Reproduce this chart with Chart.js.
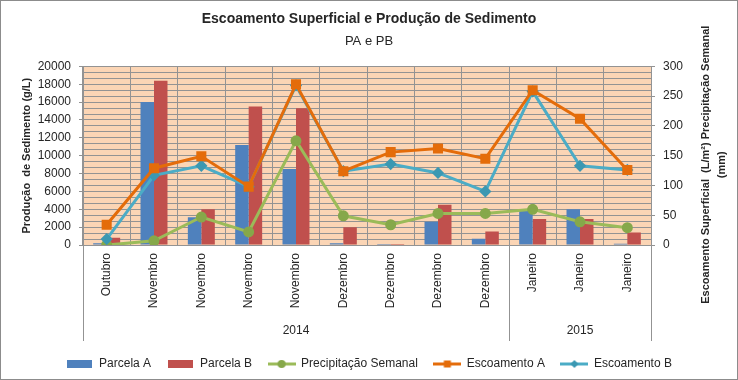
<!DOCTYPE html>
<html>
<head>
<meta charset="utf-8">
<script src="https://cdn.jsdelivr.net/npm/chart.js@4"></script>
<style>
  html, body { margin: 0; padding: 0; background: #fff; }
  canvas { display: block; }
</style>
</head>
<body>
<canvas id="chart" width="738" height="380"></canvas>
<script>
// Data
const categories = ['Outubro', 'Novembro', 'Novembro', 'Novembro', 'Novembro', 'Dezembro', 'Dezembro', 'Dezembro', 'Dezembro', 'Janeiro', 'Janeiro', 'Janeiro'];
const years = ['2014', '2015'];
const yearCounts = [9, 3];

const parcelaA = [200, 16000, 3100, 11200, 8500, 200, 100, 2600, 700, 3800, 4000, 150];
const parcelaB = [800, 18400, 4000, 15500, 15300, 2000, 100, 4500, 1500, 2900, 2900, 1400];
const precipitacao = [0, 7, 47, 22, 175, 49, 34, 53, 53, 60, 39, 29];
const escoamentoA = [34, 129, 149, 98, 270, 124, 156, 162, 145, 260, 212, 126];
const escoamentoB = [10, 117, 133, 98, 268, 124, 136, 121, 90, 258, 133, 126];

const leftTicks = { min: 0, max: 20000, step: 2000 };
const rightTicks = { min: 0, max: 300, step: 10, labelEvery: 50 };

// colours
const blue = '#4F81BD';
const red = '#C0504D';
const green = '#9BBB59';
const greenDark = '#86A84A';
const orange = '#E46C0A';
const teal = '#4BACC6';
const tealDark = '#3B98B2';
const plotBg = '#FBD5B5';
const gridColor = '#939393';
const textColor = '#262626';

Chart.defaults.font.family = '"Liberation Sans", Arial, sans-serif';
Chart.defaults.font.size = 12;
Chart.defaults.color = textColor;

// small pictures for the legend, Excel style
function legendBox(color) {
    const c = document.createElement('canvas');
    c.width = 25; c.height = 8;
    const g = c.getContext('2d');
    g.fillStyle = color;
    g.fillRect(0, 0, 25, 8);
    return c;
}
function legendLine(color, markColor, mark) {
    const c = document.createElement('canvas');
    c.width = 28; c.height = 10;
    const g = c.getContext('2d');
    g.strokeStyle = color;
    g.lineWidth = 3;
    g.beginPath(); g.moveTo(0, 5); g.lineTo(28, 5); g.stroke();
    g.fillStyle = markColor;
    if (mark === 'circle') {
        g.beginPath(); g.arc(14, 5, 4, 0, Math.PI * 2); g.fill();
    } else if (mark === 'rect') {
        g.fillRect(10.5, 1.5, 7, 7);
    } else {
        g.beginPath(); g.moveTo(14, 1); g.lineTo(18, 5); g.lineTo(14, 9); g.lineTo(10, 5); g.closePath(); g.fill();
    }
    return c;
}
const legendPics = [
    legendBox(blue),
    legendBox(red),
    legendLine(green, greenDark, 'circle'),
    legendLine(orange, orange, 'rect'),
    legendLine(teal, tealDark, 'diamond')
];

// background, border, year groups, right title
const decorPlugin = {
    id: 'decor',
    beforeDraw(chart) {
        const ctx = chart.ctx;
        const a = chart.chartArea;
        ctx.save();
        ctx.fillStyle = '#fff';
        ctx.fillRect(0, 0, chart.width, chart.height);
        ctx.fillStyle = plotBg;
        ctx.fillRect(a.left, a.top, a.right - a.left, a.bottom - a.top);
        ctx.restore();
    },
    afterDraw(chart) {
        const ctx = chart.ctx;
        const a = chart.chartArea;
        const x = chart.scales.x;
        ctx.save();
        // outer border
        ctx.strokeStyle = '#8C8C8C';
        ctx.lineWidth = 1;
        ctx.strokeRect(0.5, 0.5, chart.width - 1, chart.height - 1);

        // year groups under the month labels
        const half = (x.getPixelForValue(1) - x.getPixelForValue(0)) / 2;
        ctx.strokeStyle = gridColor;
        ctx.fillStyle = textColor;
        ctx.font = '12px "Liberation Sans", Arial, sans-serif';
        ctx.textAlign = 'center';
        ctx.textBaseline = 'middle';
        let start = 0;
        const bounds = [x.getPixelForValue(0) - half];
        years.forEach((yr, i) => {
            const end = start + yearCounts[i] - 1;
            const l = x.getPixelForValue(start) - half;
            const r = x.getPixelForValue(end) + half;
            bounds.push(r);
            ctx.fillText(yr, (l + r) / 2, a.bottom + 86);
            start = end + 1;
        });
        bounds.forEach(b => {
            const px = Math.round(b) + 0.5;
            ctx.beginPath();
            ctx.moveTo(px, a.bottom);
            ctx.lineTo(px, a.bottom + 96);
            ctx.stroke();
        });

        // right axis title, read bottom to top like Excel
        const s = chart.scales.y1;
        const cy = (a.top + a.bottom) / 2 + 9;
        ctx.font = 'bold 11px "Liberation Sans", Arial, sans-serif';
        ctx.translate(s.right - 32, cy);
        ctx.rotate(-Math.PI / 2);
        ctx.fillText('Escoamento Superficial  (L/m²) Precipitação Semanal', 0, 0);
        ctx.fillText('(mm)', 0, 16);
        ctx.restore();
    }
};

const ctx = document.getElementById('chart').getContext('2d');
const chart = new Chart(ctx, {
    type: 'bar',
    data: {
        labels: categories,
        datasets: [
            { label: 'Parcela A', data: parcelaA, backgroundColor: blue, yAxisID: 'y', order: 2, categoryPercentage: 0.57, barPercentage: 1 },
            { label: 'Parcela B', data: parcelaB, backgroundColor: red, yAxisID: 'y', order: 2, categoryPercentage: 0.57, barPercentage: 1 },
            { type: 'line', label: 'Precipitação Semanal', data: precipitacao, yAxisID: 'y1', order: 1,
              borderColor: green, borderWidth: 3, backgroundColor: greenDark, pointBackgroundColor: greenDark,
              pointBorderColor: greenDark, pointStyle: 'circle', pointRadius: 4, tension: 0 },
            { type: 'line', label: 'Escoamento A', data: escoamentoA, yAxisID: 'y1', order: 0,
              borderColor: orange, borderWidth: 3, backgroundColor: orange, pointBackgroundColor: orange,
              pointBorderColor: orange, pointStyle: 'rect', pointRadius: 5, tension: 0 },
            { type: 'line', label: 'Escoamento B', data: escoamentoB, yAxisID: 'y1', order: 0,
              borderColor: teal, borderWidth: 3, backgroundColor: tealDark, pointBackgroundColor: tealDark,
              pointBorderColor: tealDark, pointStyle: 'rectRot', pointRadius: 4, tension: 0 }
        ]
    },
    options: {
        responsive: false,
        animation: false,
        devicePixelRatio: 1,
        layout: { padding: { left: 0, right: 0, top: 0, bottom: 0 } },
        plugins: {
            title: {
                display: true,
                text: 'Escoamento Superficial e Produção de Sedimento',
                font: { size: 14, weight: 'bold' },
                color: textColor,
                padding: { top: 11, bottom: 6 }
            },
            subtitle: {
                display: true,
                text: 'PA e PB',
                font: { size: 13 },
                color: textColor,
                padding: { bottom: 17 }
            },
            legend: {
                position: 'bottom',
                labels: {
                    usePointStyle: true,
                    pointStyleWidth: 27,
                    padding: 16,
                    font: { size: 12 },
                    color: textColor,
                    generateLabels(chart) {
                        const items = Chart.defaults.plugins.legend.labels.generateLabels(chart);
                        items.sort((p, q) => p.datasetIndex - q.datasetIndex);
                        items.forEach(it => { it.pointStyle = legendPics[it.datasetIndex]; });
                        return items;
                    }
                }
            },
            tooltip: { enabled: false }
        },
        scales: {
            x: {
                grid: { color: gridColor, offset: true, drawTicks: false },
                border: { color: gridColor },
                ticks: { minRotation: 90, maxRotation: 90, padding: 8, autoSkip: false },
                afterFit(scale) { scale.height = 97; }
            },
            y: {
                position: 'left',
                min: leftTicks.min,
                max: leftTicks.max,
                ticks: { stepSize: leftTicks.step, padding: 8, autoSkip: false, callback: v => String(v) },
                grid: { drawOnChartArea: false, tickLength: 4, color: gridColor },
                border: { color: gridColor },
                title: {
                    display: true,
                    text: 'Produção  de Sedimento (g/L)',
                    font: { size: 11, weight: 'bold' },
                    padding: { top: 20 }
                },
                afterFit(scale) { scale.width = 83; }
            },
            y1: {
                position: 'right',
                min: rightTicks.min,
                max: rightTicks.max,
                ticks: {
                    stepSize: rightTicks.step,
                    autoSkip: false,
                    padding: 8,
                    callback: v => (v % rightTicks.labelEvery === 0 ? v : '')
                },
                grid: {
                    color: gridColor,
                    tickLength: 4,
                    tickColor: c => (c.tick && c.tick.value % rightTicks.labelEvery === 0 ? gridColor : 'rgba(0,0,0,0)')
                },
                border: { color: gridColor },
                afterFit(scale) { scale.width = 87; }
            }
        }
    },
    plugins: [decorPlugin]
});
</script>
</body>
</html>
